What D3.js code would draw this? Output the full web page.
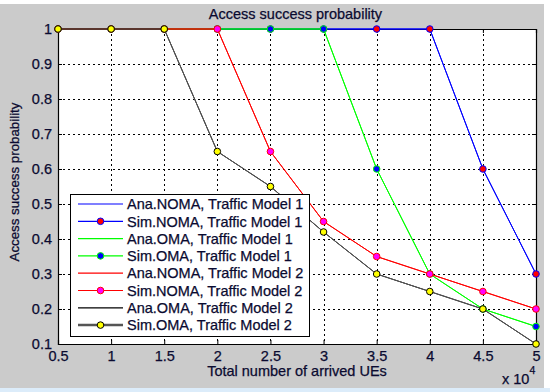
<!DOCTYPE html>
<html lang="en">
<head>
<meta charset="UTF-8">
<script src="https://d3js.org/d3.v7.min.js"></script>
<style>
  body { margin: 0; background: #fff; }
  text { font-family: "Liberation Sans", Arial, sans-serif; fill: #0a0a30; stroke: #0a0a30; stroke-width: 0.25px; }
</style>
</head>
<body>
<script>
// data (x in units of 10^4 UEs)
const xVals = [0.5, 1, 1.5, 2, 2.5, 3, 3.5, 4, 4.5, 5];
const xTicks = [0.5, 1, 1.5, 2, 2.5, 3, 3.5, 4, 4.5, 5];
const yTicks = [0.1, 0.2, 0.3, 0.4, 0.5, 0.6, 0.7, 0.8, 0.9, 1];

const noma1 = [1, 1, 1, 1, 1, 1, 1, 1, 0.6, 0.3];
const oma1  = [1, 1, 1, 1, 1, 1, 0.6, 0.3, 0.2, 0.15];
const noma2 = [1, 1, 1, 1, 0.65, 0.45, 0.35, 0.3, 0.25, 0.2];
const oma2  = [1, 1, 1, 0.65, 0.55, 0.42, 0.3, 0.25, 0.2, 0.1];

const seriesNames = [
  "Ana.NOMA, Traffic Model 1", "Sim.NOMA, Traffic Model 1",
  "Ana.OMA, Traffic Model 1", "Sim.OMA, Traffic Model 1",
  "Ana.NOMA, Traffic Model 2", "Sim.NOMA, Traffic Model 2",
  "Ana.OMA, Traffic Model 2", "Sim.OMA, Traffic Model 2"
];

const series = [
  { name: seriesNames[0], values: noma1, line: "#0000ff", width: 1 },
  { name: seriesNames[1], values: noma1, line: "#0000ff", width: 1, face: "#ff0000", edge: "#0000ff" },
  { name: seriesNames[2], values: oma1, line: "#00ff00", width: 1 },
  { name: seriesNames[3], values: oma1, line: "#00ff00", width: 1, face: "#0000ff", edge: "#00ff00" },
  { name: seriesNames[4], values: noma2, line: "#ff0000", width: 1 },
  { name: seriesNames[5], values: noma2, line: "#ff0000", width: 1, face: "#ff00ff", edge: "#ff0000" },
  { name: seriesNames[6], values: oma2, line: "#000000", width: 1 },
  { name: seriesNames[7], values: oma2, line: "#555555", width: 1, face: "#ffff00", edge: "#000000", legendWidth: 2.5 }
];

const W = 550, H = 392;
const pL = 58, pR = 536, pT = 29, pB = 344;

const svg = d3.select("body").append("svg")
  .attr("width", W).attr("height", H);

// figure background
svg.append("rect").attr("x", 0).attr("y", 4).attr("width", 544).attr("height", 384).attr("fill", "#cbcbcb");
svg.append("rect").attr("x", 0).attr("y", 388).attr("width", 550).attr("height", 4).attr("fill", "#dcecfa");

const x = d3.scaleLinear().domain([0.5, 5]).range([pL, pR]);
const y = d3.scaleLinear().domain([0.1, 1]).range([pB, pT]);

// plot area
svg.append("rect").attr("x", pL).attr("y", pT)
  .attr("width", pR - pL).attr("height", pB - pT).attr("fill", "#fff");

// grid
const grid = svg.append("g").attr("stroke", "#000").attr("stroke-width", 1).attr("stroke-dasharray", "2,3");
grid.selectAll(".gx").data(xTicks.slice(1, -1)).enter().append("line")
  .attr("x1", d => Math.round(x(d)) + 0.5).attr("x2", d => Math.round(x(d)) + 0.5)
  .attr("y1", pT).attr("y2", pB);
grid.selectAll(".gy").data(yTicks.slice(1, -1)).enter().append("line")
  .attr("y1", d => Math.round(y(d)) + 0.5).attr("y2", d => Math.round(y(d)) + 0.5)
  .attr("x1", pL).attr("x2", pR);

// axes with inward ticks
const xb = svg.append("g").attr("transform", `translate(0,${pB})`)
  .call(d3.axisBottom(x).tickValues(xTicks).tickSize(-4).tickPadding(7).tickFormat(d => d));
const xt = svg.append("g").attr("transform", `translate(0,${pT})`)
  .call(d3.axisTop(x).tickValues(xTicks).tickSize(-4).tickFormat(""));
const yl = svg.append("g").attr("transform", `translate(${pL},0)`)
  .call(d3.axisLeft(y).tickValues(yTicks).tickSize(-4).tickPadding(6).tickFormat(d => d));
const yr = svg.append("g").attr("transform", `translate(${pR},0)`)
  .call(d3.axisRight(y).tickValues(yTicks).tickSize(-4).tickFormat(""));
[xb, xt, yl, yr].forEach(g => {
  g.select(".domain").attr("stroke", "#000").attr("stroke-width", 1.2);
  g.selectAll(".tick line").attr("stroke", "#000");
  g.selectAll("text").attr("font-size", 14.5).attr("fill", null)
    .attr("font-family", null);
});

// lines and markers
const lineGen = d3.line().x((d, i) => x(xVals[i])).y(d => y(d));
series.forEach(s => {
  svg.append("path").datum(s.values)
    .attr("d", lineGen).attr("fill", "none")
    .attr("stroke", s.line).attr("stroke-width", s.width);
  if (s.face) {
    svg.append("g").selectAll("circle").data(s.values).enter().append("circle")
      .attr("cx", (d, i) => x(xVals[i])).attr("cy", d => y(d)).attr("r", 3.3)
      .attr("fill", s.face).attr("stroke", s.edge).attr("stroke-width", 1);
  }
});

// legend
const lg = svg.append("g");
lg.append("rect").attr("x", 70.5).attr("y", 194.5).attr("width", 239).attr("height", 142)
  .attr("fill", "#fff").attr("stroke", "#000").attr("stroke-width", 1);
const row = lg.selectAll(".row").data(series).enter().append("g")
  .attr("transform", (d, i) => `translate(0,${204 + i * 17.3})`);
row.append("line").attr("x1", 78).attr("x2", 123).attr("y1", 0).attr("y2", 0)
  .attr("stroke", d => d.line).attr("stroke-width", d => d.legendWidth || 1.2);
row.filter(d => d.face).append("circle").attr("cx", 100.5).attr("cy", 0).attr("r", 3.3)
  .attr("fill", d => d.face).attr("stroke", d => d.edge);
row.append("text").attr("x", 127).attr("y", 0).attr("dy", "0.36em")
  .attr("font-size", 14.5).text(d => d.name);

// titles
svg.append("text").attr("x", 295.5).attr("y", 19).attr("text-anchor", "middle")
  .attr("font-size", 14.5).text("Access success probability");
svg.append("text").attr("x", 297).attr("y", 376).attr("text-anchor", "middle")
  .attr("font-size", 14.5).text("Total number of arrived UEs");
svg.append("text").attr("transform", "translate(19,182) rotate(-90)")
  .attr("text-anchor", "middle").attr("font-size", 13.3).text("Access success probability");
svg.append("text").attr("x", 502).attr("y", 384).attr("font-size", 14.5)
  .text("x 10").append("tspan").attr("dy", -10).attr("font-size", 10.5).text("4");
</script>
</body>
</html>
